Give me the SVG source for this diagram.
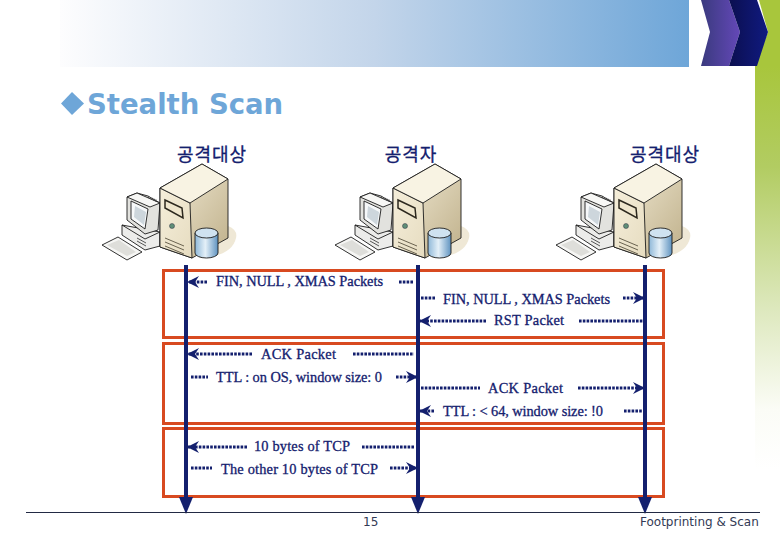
<svg xmlns="http://www.w3.org/2000/svg" width="780" height="540" viewBox="0 0 780 540">
<style>
.t{font-family:"Liberation Serif","Times New Roman",serif;font-size:14.4px;fill:#14206e;text-anchor:middle;stroke:#14206e;stroke-width:.3}
.k{font-family:"Noto Sans CJK KR","Noto Sans",sans-serif;font-size:18px;fill:#14206e;text-anchor:middle;letter-spacing:1px;stroke:#14206e;stroke-width:.3}
.f{font-family:"DejaVu Sans",sans-serif;font-size:12px;fill:#333a55}
.box{fill:none;stroke:#d84a20;stroke-width:3}
.life{stroke:#14206e;stroke-width:4;fill:none}
.d{stroke:#14206e;stroke-width:3;stroke-dasharray:2.6 1.2;fill:none}
.o{stroke:#1c1c1c;stroke-width:.9;stroke-linejoin:round}
</style>
<defs>
<linearGradient id="hdr" x1="0" x2="1" y1="0" y2="0"><stop offset="0" stop-color="#fdfdfe"/><stop offset=".5" stop-color="#c3d5ea"/><stop offset="1" stop-color="#6ea6d8"/></linearGradient>
<linearGradient id="side" x1="0" x2="0" y1="0" y2="1"><stop offset="0" stop-color="#a8c63c"/><stop offset=".25" stop-color="#b2cc62"/><stop offset=".6" stop-color="#dde8bd"/><stop offset=".85" stop-color="#fbfcf6"/><stop offset="1" stop-color="#fff"/></linearGradient>
<linearGradient id="pur" x1="0" x2="1" y1="0" y2="0"><stop offset="0" stop-color="#3a3a7e"/><stop offset="1" stop-color="#6448b8"/></linearGradient>
<linearGradient id="nav" x1="0" x2="1" y1="0" y2="0"><stop offset="0" stop-color="#0b0f50"/><stop offset="1" stop-color="#101a80"/></linearGradient>
<linearGradient id="front" x1="0" x2="1" y1="0" y2="1"><stop offset="0" stop-color="#f5eeda"/><stop offset="1" stop-color="#e6dcc0"/></linearGradient>
<linearGradient id="sideS" x1="0" x2="1" y1="0" y2="1"><stop offset="0" stop-color="#f3ecd8"/><stop offset="1" stop-color="#bfb08a"/></linearGradient>
<linearGradient id="cyl" x1="0" x2="1" y1="0" y2="0"><stop offset="0" stop-color="#8fb8d8"/><stop offset=".45" stop-color="#e4f0f8"/><stop offset="1" stop-color="#5f93c0"/></linearGradient>
<marker id="ah" viewBox="0 0 12 12" refX="11" refY="6" markerWidth="12" markerHeight="12" markerUnits="userSpaceOnUse" orient="auto-start-reverse"><path d="M0 0L12 6L0 12L4 6Z" fill="#14206e"/></marker>
<g id="pc">
<path d="M200 258Q232 256 236 238Q238 230 228 226L190 250Z" fill="#efe8d6"/>
<path d="M122 225L122 235L145 250L160 246L160 232Z" fill="#ececea" class="o"/>
<path d="M122 225L145 239L160 232" fill="none" class="o"/>
<path d="M137 238L146 243M137 241L146 246" stroke="#555" stroke-width="1"/>
<path d="M127 220L127 197L137 193L148 196L160 203L158 230L145 234Z" fill="#e2e2de" class="o"/>
<path d="M131 201L148 209L145 229L131 219Z" fill="#f6f8f9" class="o"/>
<path d="M135 206L146 212L144 225L134 217Z" fill="#cdd6dc"/>
<path d="M127 197L137 193L160 203L150 207Z" fill="#f7f7f5" class="o"/>
<path d="M148 197L157 201" stroke="#444" stroke-width="2" stroke-dasharray="1 1"/>
<path d="M102 245L118 237L142 252L127 260Z" fill="#f6f6f4" class="o"/>
<path d="M107 245L119 240L136 252L127 256Z" fill="#dededa"/>
<path d="M160 188L202 164L228 179L228 238L192 258L160 247Z" fill="url(#sideS)" class="o"/>
<path d="M160 188L190 203L192 258L160 247Z" fill="url(#front)" class="o"/>
<path d="M160 188L202 164L228 179L190 203Z" fill="#f8f3e3" class="o"/>
<path d="M165 200L182 208L183 218L165 208Z" fill="#efe6cd" stroke="#2c281e" stroke-width="1.500"/>
<circle cx="172" cy="226" r="2.5" fill="#5f8f78" stroke="#334" stroke-width=".5"/>
<path d="M165 238L184 246M165 242L184 250M165 246L184 254" stroke="#6a6350" stroke-width="1" fill="none"/>
<path d="M195 233V253A11.500 5 0 0 0 218 253V233Z" fill="url(#cyl)" class="o"/>
<ellipse cx="206.500" cy="233" rx="11.500" ry="5" fill="#cfe2f0" class="o"/>
</g>
</defs>
<rect width="780" height="540" fill="#fff"/>
<g id="header">
<rect x="60" y="0" width="629" height="67" fill="url(#hdr)"/>
<rect x="755" y="66" width="25" height="404" fill="url(#side)"/>
<path d="M759 0H780V66H755L768 32Z" fill="#a8c63c"/>
<path d="M701 0H729L740 32L729 66H701L710 32Z" fill="url(#pur)"/>
<path d="M729 0H757L768 32L757 66H729L740 32Z" fill="url(#nav)"/>
</g>
<g id="title">
<path d="M72 92L84 103.500L72 115L61 103.500Z" fill="#6ea6d8"/>
<text x="87" y="114" font-family="'DejaVu Sans',sans-serif" font-size="27.500" font-weight="700" fill="#6ea6d8">Stealth Scan</text>
</g>
<g id="node-target-left"><use href="#pc"/><text class="k" x="212" y="161">공격대상</text></g>
<g id="node-attacker"><use href="#pc" x="233"/><text class="k" x="411" y="161">공격자</text></g>
<g id="node-target-right"><use href="#pc" x="454"/><text class="k" x="665" y="161">공격대상</text></g>
<g id="boxes">
<rect class="box" x="163.500" y="270.500" width="500" height="67"/>
<rect class="box" x="163.500" y="343.500" width="500" height="80"/>
<rect class="box" x="163.500" y="428.500" width="500" height="68"/>
</g>
<g id="connectors">
<path d="M186 265V498" class="life"/><path d="M179 497H193L186 514Z" fill="#14206e"/>
<path d="M418 265V498" class="life"/><path d="M411 497H425L418 514Z" fill="#14206e"/>
<path d="M645 265V498" class="life"/><path d="M638 497H652L645 514Z" fill="#14206e"/>
<path class="d" d="M207 282H188" marker-end="url(#ah)"/><path class="d" d="M399 282H414"/>
<path class="d" d="M421 298H435"/><path class="d" d="M623 298H644" marker-end="url(#ah)"/>
<path class="d" d="M486 321H420" marker-end="url(#ah)"/><path class="d" d="M579 321H643"/>
<path class="d" d="M252 354H188" marker-end="url(#ah)"/><path class="d" d="M353 354H414"/>
<path class="d" d="M191 377H208"/><path class="d" d="M396 377H417" marker-end="url(#ah)"/>
<path class="d" d="M421 388H480"/><path class="d" d="M578 388H644" marker-end="url(#ah)"/>
<path class="d" d="M434 411H420" marker-end="url(#ah)"/><path class="d" d="M624 411H643"/>
<path class="d" d="M247 447H188" marker-end="url(#ah)"/><path class="d" d="M362 447H414"/>
<path class="d" d="M191 468H212"/><path class="d" d="M390 468H417" marker-end="url(#ah)"/>
</g>
<g id="labels">
<text class="t" x="299.500" y="286" textLength="167">FIN, NULL , XMAS Packets</text>
<text class="t" x="526.500" y="304" textLength="167">FIN, NULL , XMAS Packets</text>
<text class="t" x="529" y="325" textLength="70">RST Packet</text>
<text class="t" x="298.500" y="359" textLength="75">ACK Packet</text>
<text class="t" x="299" y="382" textLength="166">TTL : on OS, window size: 0</text>
<text class="t" x="525.500" y="393" textLength="75">ACK Packet</text>
<text class="t" x="523" y="416" textLength="160">TTL : &lt; 64, window size: !0</text>
<text class="t" x="302" y="451" textLength="96">10 bytes of TCP</text>
<text class="t" x="299.500" y="474" textLength="157">The other 10 bytes of TCP</text>
</g>
<g id="footer">
<path d="M26 512.500H760" stroke="#222a44" stroke-width="1"/>
<text class="f" x="363" y="526">15</text>
<text class="f" x="640" y="526">Footprinting &amp; Scan</text>
</g>
</svg>
